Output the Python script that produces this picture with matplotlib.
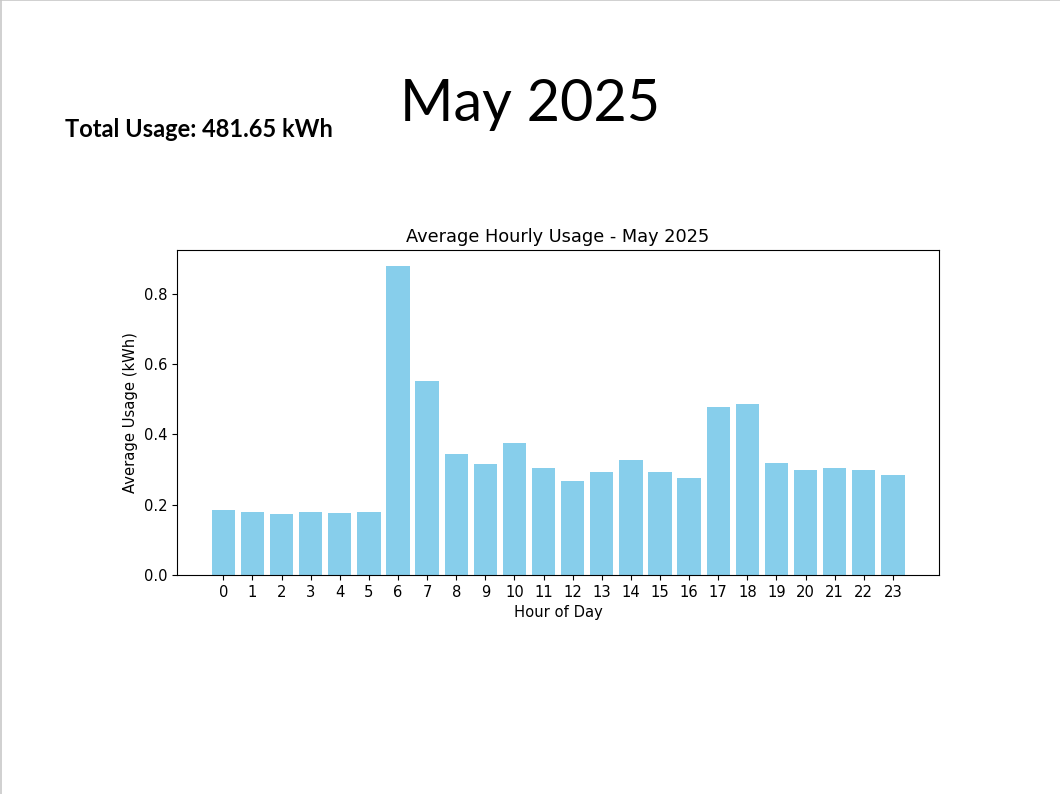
import matplotlib.pyplot as plt
from matplotlib.lines import Line2D

# data
hours = list(range(24))
avg_usage = [0.185, 0.178, 0.173, 0.178, 0.176, 0.178,
             0.880, 0.553, 0.345, 0.315, 0.376, 0.303,
             0.267, 0.294, 0.327, 0.294, 0.276, 0.478,
             0.487, 0.318, 0.300, 0.304, 0.300, 0.285]
month_title = "May 2025"
total_usage = 481.65

fig = plt.figure(figsize=(10.6, 7.94), dpi=100)

# slide border (top and left edges)
fig.add_artist(Line2D([0.0005, 0.0005], [0, 1], color="#c8c8c8", linewidth=1.2))
fig.add_artist(Line2D([0, 1], [0.9995, 0.9995], color="#c8c8c8", linewidth=1.2))

# slide texts
fig.text(0.5, 0.868, month_title, ha="center", va="center", fontsize=41.5, family="Lato")
fig.text(0.061, 0.837, f"Total Usage: {total_usage:.2f} kWh", ha="left", va="center",
         fontsize=17, fontweight="bold", family="Lato")

# chart
ax = fig.add_axes([0.167, 0.2758, 0.719, 0.4093])
ax.bar(hours, avg_usage, color="skyblue")
ax.set_xticks(hours)
ax.tick_params(labelsize=10.6)
ax.set_title("Average Hourly Usage - May 2025", fontsize=12.8)
ax.set_xlabel("Hour of Day", fontsize=10.6)
ax.set_ylabel("Average Usage (kWh)", fontsize=10.6)

fig.savefig("out.png", dpi=100)
